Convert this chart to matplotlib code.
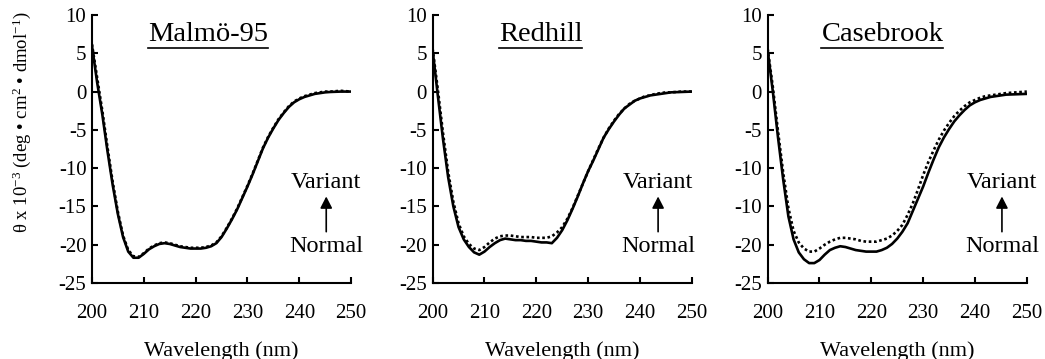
import matplotlib
matplotlib.use("Agg")
import matplotlib.pyplot as plt
from matplotlib.lines import Line2D

plt.rcParams['font.family'] = ['Liberation Serif', 'DejaVu Serif']
plt.rcParams['mathtext.fontset'] = 'custom'
plt.rcParams['mathtext.rm'] = 'Liberation Serif'
plt.rcParams['mathtext.it'] = 'Liberation Serif'

# wavelength grid (nm)
wl = list(range(200, 247)) + [248, 250]

malmo_normal = [6.0, 1.2, -3.0, -7.8, -12.2, -16.0, -19.0, -20.9, -21.7, -21.7,
                -21.2, -20.6, -20.2, -19.9, -19.8, -19.9, -20.1, -20.3, -20.4, -20.5,
                -20.5, -20.5, -20.4, -20.2, -19.8, -19.0, -17.9, -16.7, -15.4, -13.9,
                -12.4, -10.8, -9.1, -7.4, -6.0, -4.8, -3.7, -2.8, -2.0, -1.4,
                -1.0, -0.7, -0.5, -0.3, -0.2, -0.1, -0.05, 0.0, 0.0]
malmo_variant = [6.2, 1.8, -2.5, -7.3, -11.8, -15.7, -18.8, -20.7, -21.5, -21.6,
                 -21.1, -20.5, -20.1, -19.8, -19.7, -19.8, -20.0, -20.2, -20.3, -20.4,
                 -20.4, -20.4, -20.3, -20.1, -19.7, -18.9, -17.8, -16.6, -15.3, -13.8,
                 -12.3, -10.7, -9.0, -7.3, -5.9, -4.7, -3.6, -2.7, -1.9, -1.3,
                 -0.9, -0.6, -0.4, -0.2, -0.1, 0.0, 0.0, 0.1, 0.0]

redhill_normal = [5.4, -0.5, -6.2, -11.2, -15.0, -17.7, -19.3, -20.3, -21.0, -21.3,
                  -20.9, -20.3, -19.8, -19.4, -19.2, -19.3, -19.4, -19.4, -19.5, -19.5,
                  -19.6, -19.7, -19.7, -19.8, -19.1, -18.1, -16.8, -15.3, -13.7, -12.0,
                  -10.4, -9.0, -7.5, -6.0, -4.9, -3.9, -3.0, -2.2, -1.7, -1.2,
                  -0.9, -0.7, -0.5, -0.4, -0.3, -0.2, -0.1, -0.05, 0.0]
redhill_variant = [5.6, 0.3, -5.4, -10.5, -14.4, -17.2, -18.9, -19.9, -20.5, -20.7,
                   -20.3, -19.7, -19.2, -18.9, -18.8, -18.8, -18.9, -19.0, -19.0, -19.0,
                   -19.1, -19.1, -19.1, -18.9, -18.4, -17.7, -16.6, -15.2, -13.6, -12.0,
                   -10.4, -8.9, -7.4, -6.0, -4.8, -3.8, -2.9, -2.2, -1.6, -1.2,
                   -0.9, -0.6, -0.5, -0.3, -0.2, -0.1, -0.1, 0.0, 0.0]

case_normal = [5.4, 0.0, -6.0, -11.5, -16.3, -19.3, -21.0, -21.9, -22.4, -22.4,
               -22.0, -21.3, -20.7, -20.4, -20.2, -20.3, -20.5, -20.7, -20.8, -20.9,
               -20.9, -20.9, -20.7, -20.4, -19.9, -19.2, -18.3, -17.2, -15.6, -14.0,
               -12.4, -10.6, -8.9, -7.3, -6.0, -4.9, -3.9, -3.1, -2.4, -1.8,
               -1.4, -1.1, -0.9, -0.7, -0.6, -0.5, -0.4, -0.35, -0.3]
case_variant = [5.6, 0.6, -5.2, -10.6, -15.2, -18.2, -19.7, -20.5, -20.9, -20.9,
                -20.5, -20.0, -19.6, -19.3, -19.1, -19.1, -19.2, -19.3, -19.5, -19.6,
                -19.6, -19.6, -19.4, -19.2, -18.8, -18.2, -17.4, -16.1, -14.6, -12.8,
                -10.9, -9.2, -7.7, -6.3, -5.1, -4.1, -3.2, -2.5, -1.9, -1.4,
                -1.1, -0.8, -0.6, -0.5, -0.4, -0.3, -0.2, -0.1, 0.0]

titles = ["Malmö-95", "Redhill", "Casebrook"]
title_x = [0.448, 0.417, 0.443]
arrow_x = [245.2, 243.5, 245.2]
xticks = [200, 210, 220, 230, 240, 250]
yticks = [10, 5, 0, -5, -10, -15, -20, -25]
ytick_labels = [["10", "5", "0", "-5", "-10", "-15", "-20", "-25"],
                ["10", "5", "0", "-5", "-10", "-15", "-20", "-25"],
                ["10", "5", "0", "-5", "-10", "-10", "-20", "-25"]]
normals = [malmo_normal, redhill_normal, case_normal]
variants = [malmo_variant, redhill_variant, case_variant]

fig = plt.figure(figsize=(10.45, 3.59), dpi=100)
lefts = [0.088, 0.414, 0.7346]

title_texts = []
for i in range(3):
    ax = fig.add_axes([lefts[i], 0.2117, 0.248, 0.7465])
    ax.plot(wl, normals[i], color='black', lw=1.9, solid_capstyle='round')
    ax.plot(wl, variants[i], color='black', lw=1.9, linestyle=(0, (1, 1)))
    ax.set_xlim(200, 250)
    ax.set_ylim(-25, 10)
    for s in ['top', 'right']:
        ax.spines[s].set_visible(False)
    for s in ['left', 'bottom']:
        ax.spines[s].set_linewidth(1.5)
    ax.set_xticks(xticks)
    ax.set_xticklabels([str(t) for t in xticks])
    ax.set_yticks(yticks)
    ax.set_yticklabels(ytick_labels[i])
    ax.tick_params(axis='x', direction='in', length=4, width=1.5, labelsize=15, pad=15)
    ax.tick_params(axis='y', direction='in', length=4, width=1.5, labelsize=15, pad=4)
    ax.set_xlabel("Wavelength (nm)", fontsize=16, labelpad=13)
    t = ax.text(title_x[i], 0.903, titles[i], transform=ax.transAxes,
                ha='center', va='baseline', fontsize=20.5)
    title_texts.append(t)
    ax.text(arrow_x[i], -12.6, "Variant", ha='center', va='baseline', fontsize=17.5)
    ax.text(arrow_x[i], -20.9, "Normal", ha='center', va='baseline', fontsize=17.5)
    ax.annotate('', xy=(arrow_x[i], -13.7), xytext=(arrow_x[i], -18.3),
                arrowprops=dict(arrowstyle='-|>,head_length=0.35,head_width=0.18',
                                color='black', lw=1.2, mutation_scale=20,
                                shrinkA=0, shrinkB=0))

fig.text(0.021, 1 - 122 / 359,
         r"θ x 10$^{\mathrm{-3}}$ (deg • cm$^{\mathrm{2}}$ • dmol$^{\mathrm{-1}}$)",
         rotation=90, ha='center', va='center', fontsize=13.5)

# underline titles
fig.canvas.draw()
inv = fig.transFigure.inverted()
for t in title_texts:
    bb = t.get_window_extent()
    (x0, y0), (x1, _) = inv.transform([(bb.x0, bb.y0 - 1), (bb.x1, bb.y0)])
    fig.add_artist(Line2D([x0, x1], [y0, y0], color='black', lw=1.2,
                          transform=fig.transFigure))

fig.savefig("out.png", dpi=100)
